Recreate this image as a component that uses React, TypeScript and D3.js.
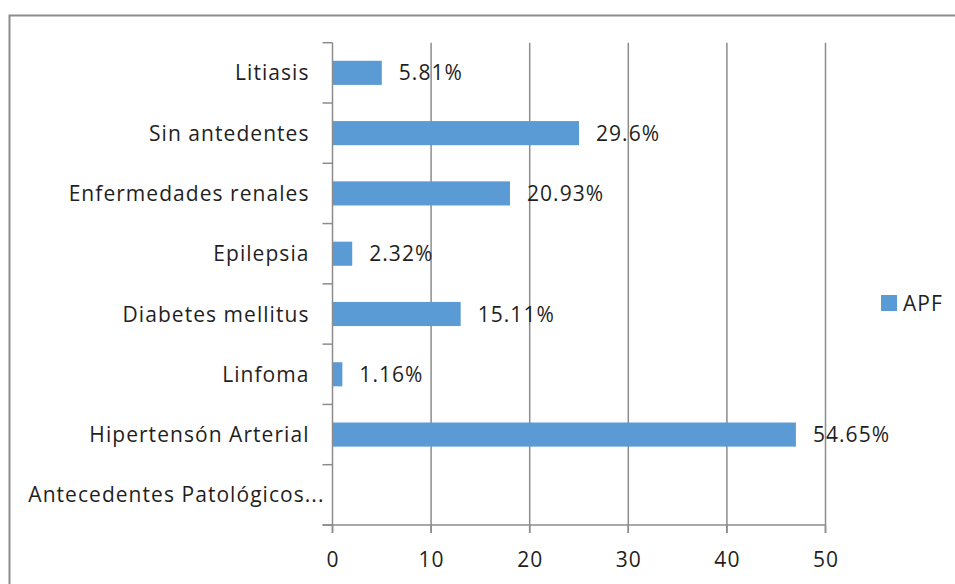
import React from "react";
import * as d3 from "d3";

const categories = [
  "Litiasis",
  "Sin antedentes",
  "Enfermedades renales",
  "Epilepsia",
  "Diabetes mellitus",
  "Linfoma",
  "Hipertensón Arterial",
  "Antecedentes Patológicos...",
];
const values = [5, 25, 18, 2, 13, 1, 47, 0];
const labels = ["5.81%", "29.6%", "20.93%", "2.32%", "15.11%", "1.16%", "54.65%", ""];
const xTicks = [0, 10, 20, 30, 40, 50];
const seriesName = "APF";

const W = 955;
const H = 584;
const FONT = "'Open Sans', sans-serif";
const FS = 21;
const LS = 1.05;
const TEXT = "#1f1f1f";
const GRID = "#8c8c8c";
const BAR = "#5B9BD5";

export default function App() {
  const x = d3.scaleLinear().domain([0, 50]).range([332.5, 825.5]);
  const y = d3
    .scaleBand<string>()
    .domain(categories)
    .range([42.7, 525])
    .paddingInner(0.6)
    .paddingOuter(0.3);
  const step = y.step();
  const top = 42.7;
  const bottom = 525;
  const x0 = x(0);
  const base = (c: string) => y(c)! + y.bandwidth() / 2 + FS * 0.36;

  const textProps = {
    fontFamily: FONT,
    fontSize: FS,
    fill: TEXT,
    letterSpacing: LS,
  };

  return (
    <div style={{ position: "absolute", left: 0, top: 0 }}>
      <svg width={W} height={H} style={{ display: "block", background: "#fff" }}>
        {/* outer chart border (cropped) */}
        <rect x={9.5} y={15.5} width={W + 20} height={H + 20} fill="#fff" stroke={GRID} strokeWidth={2} />

        {/* vertical gridlines */}
        {xTicks.slice(1).map((t) => (
          <line key={"g" + t} x1={x(t)} x2={x(t)} y1={top} y2={bottom + 8} stroke={GRID} strokeWidth={1.5} />
        ))}

        {/* bars */}
        {categories.map((c, i) =>
          values[i] > 0 ? (
            <rect key={"b" + c} x={x0} y={y(c)!} width={x(values[i]) - x0} height={y.bandwidth()} fill={BAR} />
          ) : null
        )}

        {/* category axis */}
        <line x1={x0} x2={x0} y1={top} y2={bottom + 8} stroke={GRID} strokeWidth={1.5} />
        {d3.range(categories.length + 1).map((k) => (
          <line key={"ct" + k} x1={x0 - 10} x2={x0} y1={top + k * step} y2={top + k * step} stroke={GRID} strokeWidth={1.5} />
        ))}
        {/* value axis */}
        <line x1={x0 - 10} x2={x(50)} y1={bottom} y2={bottom} stroke={GRID} strokeWidth={1.5} />
        {xTicks.map((t) => (
          <g key={"xt" + t}>
            <line x1={x(t)} x2={x(t)} y1={bottom} y2={bottom + 8} stroke={GRID} strokeWidth={1.5} />
            <text x={x(t) + LS / 2} y={567} textAnchor="middle" {...textProps}>
              {t}
            </text>
          </g>
        ))}

        {/* category labels */}
        {categories.map((c) => {
          const truncated = c.endsWith("...");
          return (
            <text
              key={"cl" + c}
              x={truncated ? x0 - 8 : x0 - 23}
              y={base(c)}
              textAnchor="end"
              {...textProps}
            >
              {c}
            </text>
          );
        })}

        {/* data labels */}
        {categories.map((c, i) =>
          labels[i] ? (
            <text key={"dl" + c} x={x(values[i]) + 17} y={base(c)} {...textProps}>
              {labels[i]}
            </text>
          ) : null
        )}

        {/* legend */}
        <rect x={881} y={295} width={16} height={16} fill={BAR} />
        <text x={903} y={303 + FS * 0.36} {...textProps}>
          {seriesName}
        </text>
      </svg>
    </div>
  );
}
